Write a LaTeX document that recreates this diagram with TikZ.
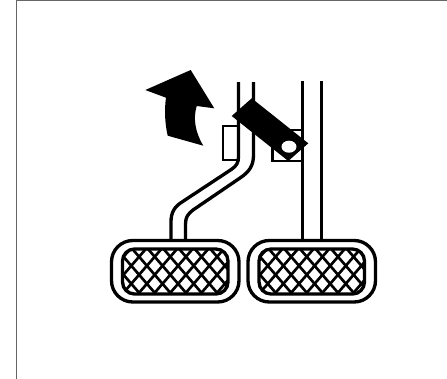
\documentclass[tikz,border=0pt]{standalone}
\usepackage{xcolor}
\tikzset{
  ink/.style={line width=2.5pt,black},
  hatch/.style={line width=2pt,black},
  frame/.style={line width=1.2pt,black!60},
  solid/.style={fill=black,draw=none}
}
\begin{document}
\begin{tikzpicture}[x=0.75pt,y=-0.75pt]
\useasboundingbox (0,0) rectangle (447,379);
\fill[white] (0,0) rectangle (447,379);
\draw[frame] (447,0.5) -- (16.5,0.5) -- (16.5,379);
% the two stems
\draw[ink] (238.5,82) -- (238.5,157) .. controls (238.5,163) and (236,166) .. (232,169) -- (182,202) .. controls (174,207) and (171,213) .. (171,222) -- (171,240);
\draw[ink] (253.5,82) -- (253.5,155) .. controls (253.5,166) and (249,172) .. (240,178) -- (193,210) .. controls (188,214) and (185.5,217) .. (185.5,224) -- (185.5,240);
\draw[ink] (302.5,81) -- (302.5,240);
\draw[ink] (321.5,81) -- (321.5,240);
% stops behind the arm
\draw[line width=2pt] (238,126) -- (223,126) -- (223,160) -- (238,160);
\draw[line width=2pt] (302,130) -- (272.5,130) -- (272.5,161) -- (302,161);
% the arm and its hole
\fill[solid] (231.7,116) -- (251.7,98.3) -- (308.3,143.3) -- (288.3,161) -- cycle;
\fill[white] (289,146.7) ellipse (7.5 and 6);
% arrow
\fill[solid] (190.7,70) -- (145.3,90) -- (166,97.7) .. controls (164.5,108) and (164.5,122) .. (167.7,135.7) -- (203.3,145.7) .. controls (195,132) and (193,118) .. (196.7,106) -- (214.3,108.3) -- cycle;
% pads
\foreach \dx in {0,136.5}{
  \begin{scope}[xshift=\dx*0.75pt]
    \draw[ink,rounded corners=16] (111.5,240.5) rectangle (239,302);
    \begin{scope}
      \clip[rounded corners=9] (122.5,249) rectangle (228,294);
      \foreach \k in {-4,...,8}{
        \draw[hatch] ({123.5+15.6*\k-14.5},240) -- ({123.5+15.6*\k+41.8},305);
        \draw[hatch] ({123.5+15.6*\k+14.5},240) -- ({123.5+15.6*\k-41.8},305);
      }
    \end{scope}
    \draw[ink,rounded corners=9] (122.5,249) rectangle (228,294);
  \end{scope}
}
\end{tikzpicture}
\end{document}
